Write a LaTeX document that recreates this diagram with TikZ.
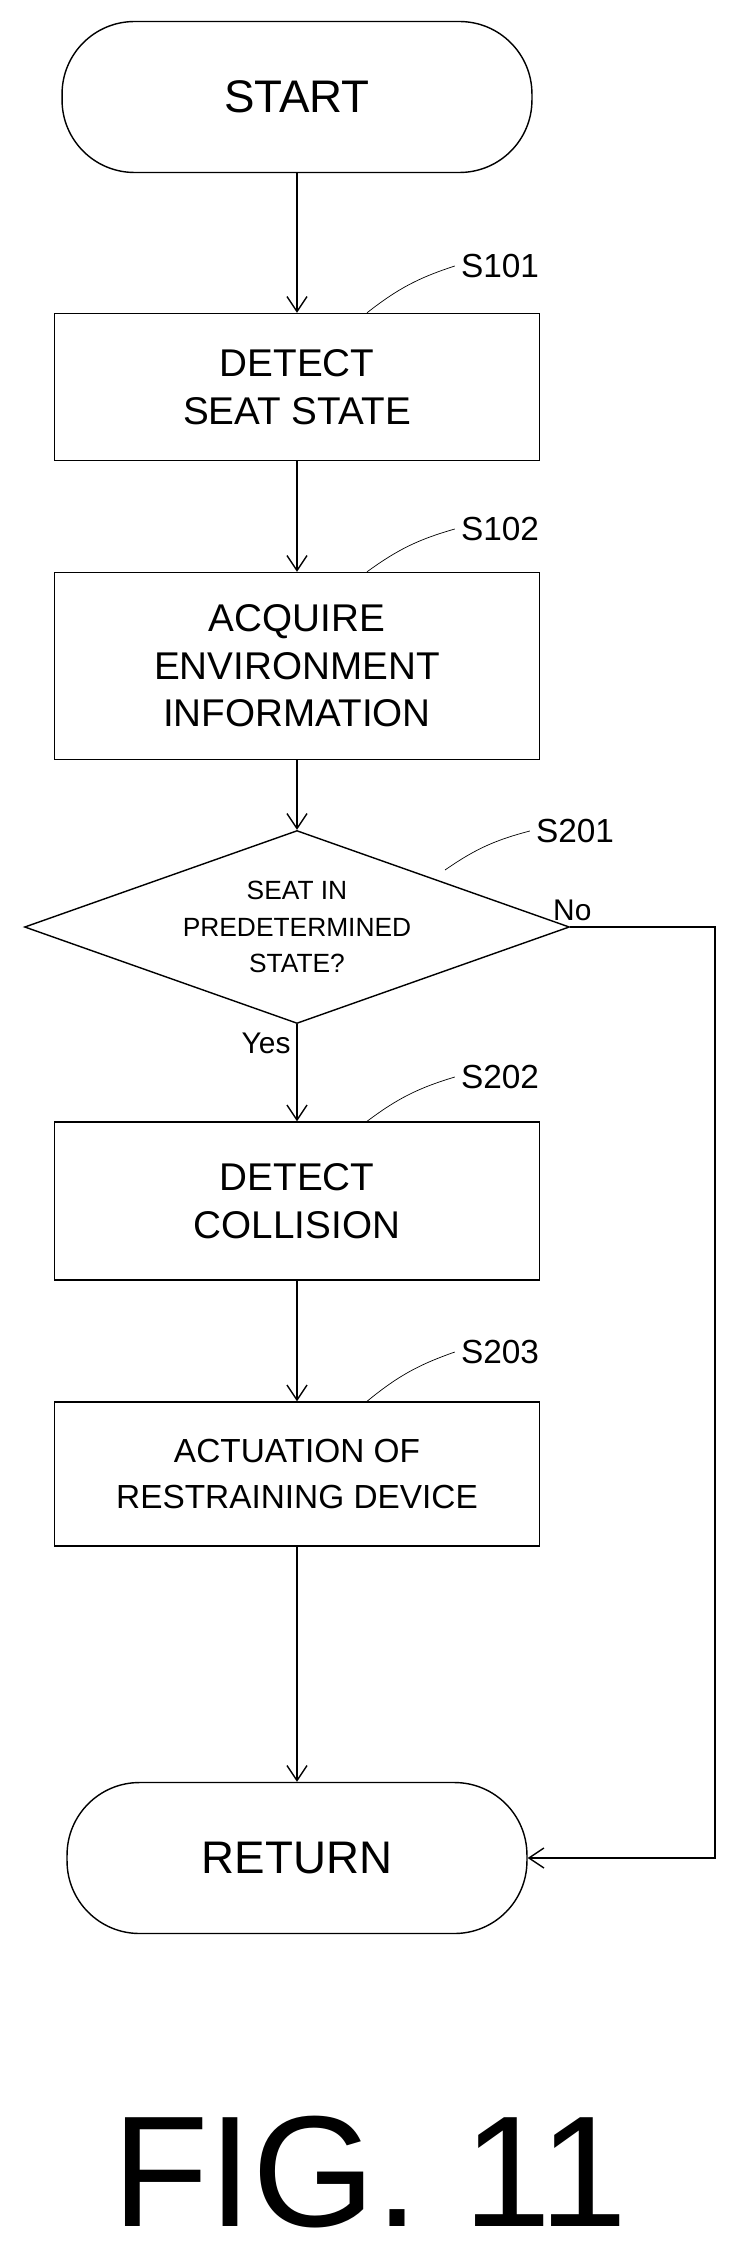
\documentclass[tikz,border=0pt]{standalone}
\usepackage{fontspec}
\setmainfont{Liberation Sans}
\usetikzlibrary{arrows.meta,positioning,shapes.geometric}
\tikzset{
  proc/.style={draw,thick,minimum width=9.7cm,align=center,font=\fontsize{22}{27}\selectfont},
  term/.style={draw,thick,rounded corners=1.45cm,minimum width=9.4cm,minimum height=3.02cm,font=\fontsize{26}{30}\selectfont},
  tag/.style={font=\fontsize{19}{22}\selectfont},
  flow/.style={thick,-{Straight Barb[length=3mm,width=4mm]}},
}
\begin{document}
\begin{tikzpicture}[x=0.02cm,y=-0.02cm]
  \useasboundingbox (0,0) rectangle (742,2250);

  \node[term] (start) at (297,97) {START};
  \node[proc,minimum height=2.94cm] (s101) at (297,387) {DETECT\\SEAT STATE};
  \node[proc,minimum height=3.74cm] (s102) at (297,666) {ACQUIRE\\ENVIRONMENT\\INFORMATION};
  \node[draw,thick,diamond,aspect=2.83,minimum width=10.9cm,minimum height=3.86cm,inner sep=0pt,
        align=center,font=\fontsize{15}{21}\selectfont] (s201) at (297,927) {SEAT IN\\PREDETERMINED\\STATE?};
  \node[proc,minimum height=3.16cm] (s202) at (297,1201) {DETECT\\COLLISION};
  \node[proc,minimum height=2.88cm,font=\fontsize{19}{26}\selectfont] (s203) at (297,1474) {ACTUATION OF\\RESTRAINING DEVICE};
  \node[term,minimum width=9.2cm] (ret) at (297,1858) {RETURN};
  \node[font=\fontsize{90}{100}\selectfont] (fig) at (370,2172) {FIG. 11};

  % step tags
  \node[tag] (t101) at (500,266) {S101};
  \node[tag] (t102) at (500,529) {S102};
  \node[tag] (t201) at (575,831) {S201};
  \node[tag] (t202) at (500,1077) {S202};
  \node[tag] (t203) at (500,1352) {S203};
  \draw (s101.north)++(70,0) to[bend left=10] (t101.west);
  \draw (s102.north)++(70,0) to[bend left=10] (t102.west);
  \draw (445,870) to[bend left=10] (t201.west);
  \draw (s202.north)++(70,0) to[bend left=10] (t202.west);
  \draw (s203.north)++(70,0) to[bend left=10] (t203.west);

  \draw[flow] (start) -- (s101);
  \draw[flow] (s101) -- (s102);
  \draw[flow] (s102) -- (s201);
  \draw[flow] (s201) -- node[pos=0.2,left,font=\fontsize{17}{20}\selectfont] {Yes} (s202);
  \draw[flow] (s202) -- (s203);
  \draw[flow] (s203) -- (ret);
  \coordinate (corner) at (715,927);
  \draw[flow] (s201.east) -- node[above,pos=0.5,xshift=-40,font=\fontsize{17}{20}\selectfont] {No} (corner) |- (ret.east);
\end{tikzpicture}
\end{document}
